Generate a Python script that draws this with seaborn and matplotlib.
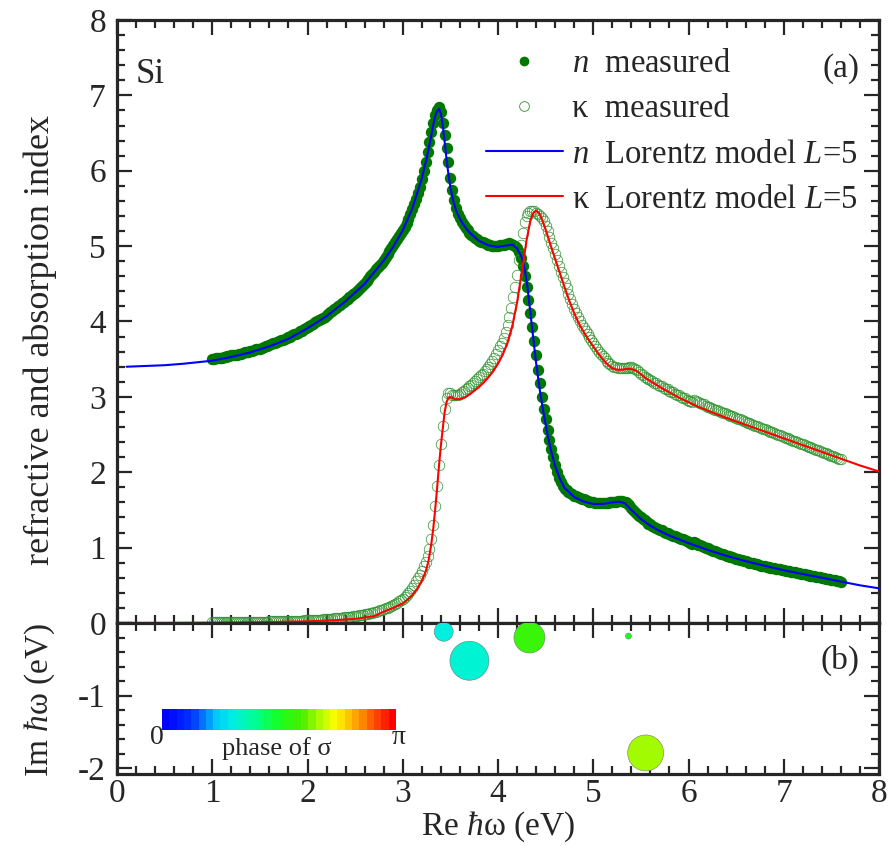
import matplotlib
matplotlib.use('Agg')
import matplotlib.pyplot as plt
import numpy as np
import seaborn as sns
from matplotlib.lines import Line2D
from matplotlib.colors import LinearSegmentedColormap, ListedColormap

# measured energies (eV), 1.00 ... 7.60 every 0.02
e_meas = np.round(np.arange(1.00, 7.605, 0.02), 2)

n_meas = [
    # 1.00 - 3.16
    3.50, 3.50, 3.51, 3.51, 3.52, 3.52, 3.53, 3.53, 3.54, 3.54,
    3.55, 3.55, 3.56, 3.56, 3.57, 3.57, 3.58, 3.59, 3.60, 3.60,
    3.61, 3.61, 3.62, 3.63, 3.64, 3.64, 3.65, 3.66, 3.67, 3.68,
    3.69, 3.70, 3.71, 3.72, 3.73, 3.74, 3.75, 3.76, 3.77, 3.78,
    3.79, 3.80, 3.82, 3.83, 3.84, 3.85, 3.87, 3.88, 3.90, 3.91,
    3.93, 3.94, 3.96, 3.97, 3.99, 4.00, 4.02, 4.03, 4.05, 4.06,
    4.08, 4.10, 4.12, 4.14, 4.16, 4.18, 4.20, 4.22, 4.24, 4.26,
    4.28, 4.30, 4.32, 4.34, 4.36, 4.38, 4.41, 4.43, 4.46, 4.48,
    4.51, 4.54, 4.57, 4.60, 4.63, 4.66, 4.69, 4.72, 4.75, 4.78,
    4.82, 4.85, 4.89, 4.93, 4.97, 5.01, 5.05, 5.09, 5.13, 5.17,
    5.21, 5.26, 5.31, 5.36, 5.42, 5.49, 5.56, 5.63, 5.70,
    # 3.18 - 4.70
    5.79, 5.89, 6.00, 6.12, 6.25, 6.38, 6.52, 6.64, 6.74, 6.81,
    6.84, 6.78, 6.64, 6.48, 6.30, 6.11, 5.91, 5.74, 5.61, 5.51,
    5.43, 5.37, 5.32, 5.28, 5.24, 5.21, 5.18, 5.15, 5.13, 5.11,
    5.09, 5.07, 5.06, 5.05, 5.04, 5.03, 5.02, 5.01, 5.00, 5.00,
    5.00, 5.00, 5.01, 5.01, 5.02, 5.03, 5.03, 5.04, 5.03, 5.02,
    5.00, 4.97, 4.92, 4.84, 4.74, 4.61, 4.46, 4.29, 4.11, 3.93,
    3.74, 3.55, 3.36, 3.18, 3.00, 2.84, 2.70, 2.56, 2.43, 2.31,
    2.20, 2.09, 2.00, 1.93, 1.87, 1.82, 1.78,
    # 4.72 - 7.60
    1.76, 1.74, 1.72, 1.71,
    1.69, 1.68, 1.67, 1.66, 1.65, 1.64, 1.63, 1.62, 1.61, 1.61,
    1.60, 1.59, 1.59, 1.59, 1.59, 1.59, 1.59, 1.59, 1.59, 1.60,
    1.60, 1.61, 1.61, 1.62, 1.62, 1.62, 1.61, 1.60, 1.58, 1.56,
    1.53, 1.50, 1.47, 1.45, 1.42, 1.40, 1.38, 1.36, 1.34, 1.32,
    1.31, 1.29, 1.28, 1.26, 1.25, 1.24, 1.23, 1.21, 1.20, 1.19,
    1.18, 1.17, 1.16, 1.15, 1.14, 1.13, 1.12, 1.11, 1.10, 1.09,
    1.08, 1.06, 1.05, 1.07, 1.06, 1.04, 1.03, 1.02, 1.01, 1.00,
    0.99, 0.98, 0.97, 0.96, 0.95, 0.94, 0.93, 0.92, 0.91, 0.90,
    0.89, 0.885, 0.88, 0.87, 0.86, 0.855, 0.85, 0.84, 0.83, 0.825,
    0.82, 0.81, 0.80, 0.795, 0.79, 0.785, 0.78, 0.77, 0.76, 0.755,
    0.75, 0.745, 0.74, 0.735, 0.73, 0.725, 0.72, 0.715, 0.71, 0.705,
    0.70, 0.695, 0.69, 0.685, 0.68, 0.675, 0.67, 0.665, 0.66, 0.655,
    0.65, 0.645, 0.64, 0.635, 0.63, 0.625, 0.62, 0.615, 0.61, 0.605,
    0.60, 0.595, 0.59, 0.585, 0.58, 0.575, 0.57, 0.565, 0.56, 0.555,
    0.55]

k_meas = [
    # 1.00 - 3.16
    0.010, 0.010, 0.010, 0.010, 0.011, 0.011, 0.011, 0.011, 0.012, 0.012,
    0.012, 0.012, 0.013, 0.013, 0.013, 0.013, 0.014, 0.014, 0.015, 0.015,
    0.015, 0.015, 0.016, 0.016, 0.017, 0.017, 0.018, 0.018, 0.019, 0.019,
    0.020, 0.020, 0.021, 0.021, 0.022, 0.022, 0.023, 0.024, 0.025, 0.025,
    0.026, 0.027, 0.028, 0.029, 0.030, 0.031, 0.032, 0.033, 0.034, 0.035,
    0.036, 0.037, 0.039, 0.040, 0.042, 0.043, 0.045, 0.046, 0.048, 0.050,
    0.052, 0.054, 0.056, 0.058, 0.060, 0.062, 0.065, 0.067, 0.070, 0.073,
    0.076, 0.079, 0.082, 0.085, 0.089, 0.093, 0.097, 0.101, 0.105, 0.110,
    0.115, 0.120, 0.126, 0.132, 0.138, 0.145, 0.152, 0.159, 0.167, 0.176,
    0.185, 0.195, 0.205, 0.216, 0.228, 0.241, 0.255, 0.270, 0.287, 0.305,
    0.325, 0.347, 0.370, 0.398, 0.430, 0.468, 0.510, 0.555, 0.600,
    # 3.18 - 4.70
    0.64, 0.69, 0.75, 0.81, 0.89, 0.98, 1.12, 1.30, 1.55, 1.82,
    2.10, 2.38, 2.62, 2.84, 2.98, 3.05, 3.05, 3.03, 3.02, 3.02,
    3.03, 3.04, 3.06, 3.08, 3.10, 3.12, 3.14, 3.16, 3.19, 3.21,
    3.24, 3.26, 3.29, 3.31, 3.34, 3.37, 3.40, 3.44, 3.48, 3.52,
    3.57, 3.62, 3.67, 3.72, 3.78, 3.86, 3.95, 4.06, 4.18, 4.32,
    4.46, 4.62, 4.82, 5.02, 5.18, 5.32, 5.40, 5.44, 5.46, 5.47,
    5.46, 5.44, 5.42, 5.40, 5.37, 5.33, 5.27, 5.20, 5.12, 5.04,
    4.97, 4.89, 4.81, 4.74, 4.66, 4.59, 4.51,
    # 4.72 - 7.60
    4.44, 4.37, 4.30, 4.23,
    4.17, 4.11, 4.06, 4.01, 3.96, 3.91, 3.87, 3.83, 3.79, 3.75,
    3.71, 3.67, 3.64, 3.60, 3.57, 3.54, 3.51, 3.48, 3.45, 3.43,
    3.41, 3.40, 3.39, 3.38, 3.38, 3.38, 3.38, 3.38, 3.38, 3.39,
    3.39, 3.38, 3.37, 3.35, 3.33, 3.31, 3.29, 3.27, 3.25, 3.24,
    3.22, 3.21, 3.19, 3.18, 3.16, 3.15, 3.14, 3.12, 3.11, 3.10,
    3.08, 3.07, 3.06, 3.04, 3.03, 3.02, 3.00, 2.99, 2.98, 2.96,
    2.95, 2.94, 2.93, 2.96, 2.95, 2.93, 2.92, 2.91, 2.90, 2.88,
    2.87, 2.86, 2.85, 2.84, 2.83, 2.82, 2.81, 2.80, 2.79, 2.78,
    2.77, 2.76, 2.75, 2.74, 2.73, 2.72, 2.71, 2.70, 2.69, 2.68,
    2.67, 2.66, 2.65, 2.64, 2.63, 2.62, 2.61, 2.60, 2.59, 2.58,
    2.57, 2.56, 2.55, 2.54, 2.53, 2.52, 2.51, 2.50, 2.49, 2.48,
    2.47, 2.46, 2.45, 2.44, 2.43, 2.42, 2.41, 2.40, 2.39, 2.38,
    2.37, 2.36, 2.35, 2.34, 2.33, 2.32, 2.31, 2.30, 2.29, 2.28,
    2.27, 2.26, 2.25, 2.24, 2.23, 2.22, 2.21, 2.20, 2.19, 2.18,
    2.17]

# Lorentz model, L=5
e_n_model = [0.10, 0.30, 0.50, 0.70, 1.00, 1.20, 1.40, 1.60, 1.80, 2.00, 2.20, 2.40, 2.60,
             2.80, 2.90, 3.00, 3.10, 3.20, 3.25, 3.30, 3.32, 3.34, 3.36, 3.38, 3.40,
             3.42, 3.44, 3.46, 3.48, 3.50, 3.53, 3.56, 3.60, 3.65, 3.70, 3.80, 3.90,
             4.00, 4.10, 4.15, 4.20, 4.25, 4.28, 4.31, 4.34, 4.37, 4.40, 4.44, 4.48,
             4.52, 4.56, 4.60, 4.65, 4.70, 4.80, 4.90, 5.00, 5.10, 5.20, 5.27, 5.33,
             5.40, 5.50, 5.60, 5.70, 5.80, 5.90, 6.00, 6.20, 6.40, 6.60, 6.80, 7.00,
             7.20, 7.40, 7.60, 7.80, 8.00]
n_model = [3.40, 3.41, 3.42, 3.44, 3.48, 3.53, 3.59, 3.67, 3.77, 3.91, 4.07, 4.27, 4.50,
           4.81, 4.99, 5.21, 5.50, 5.90, 6.16, 6.47, 6.61, 6.72, 6.79, 6.82, 6.76,
           6.60, 6.38, 6.15, 5.95, 5.78, 5.60, 5.47, 5.36, 5.26, 5.18, 5.07, 5.01,
           4.99, 5.01, 5.02, 4.97, 4.85, 4.70, 4.45, 4.12, 3.78, 3.45, 3.08, 2.77,
           2.50, 2.27, 2.08, 1.91, 1.79, 1.67, 1.61, 1.58, 1.58, 1.60, 1.61, 1.59,
           1.50, 1.38, 1.29, 1.22, 1.16, 1.11, 1.06, 0.97, 0.89, 0.82, 0.76, 0.70,
           0.65, 0.60, 0.55, 0.50, 0.46]

e_k_model = [0.10, 0.50, 1.00, 1.50, 2.00, 2.30, 2.50, 2.70, 2.80, 2.90, 3.00, 3.05, 3.10,
             3.15, 3.20, 3.24, 3.27, 3.30, 3.32, 3.34, 3.36, 3.38, 3.40, 3.42, 3.44,
             3.46, 3.48, 3.50, 3.55, 3.60, 3.65, 3.70, 3.75, 3.80, 3.85, 3.90, 3.95,
             4.00, 4.05, 4.10, 4.15, 4.20, 4.25, 4.30, 4.34, 4.37, 4.40, 4.43, 4.46,
             4.50, 4.55, 4.60, 4.65, 4.70, 4.75, 4.80, 4.85, 4.90, 4.95, 5.00, 5.05,
             5.10, 5.15, 5.20, 5.25, 5.30, 5.35, 5.40, 5.45, 5.50, 5.55, 5.60, 5.70,
             5.80, 5.90, 6.00, 6.10, 6.20, 6.40, 6.60, 6.80, 7.00, 7.20, 7.40, 7.60,
             7.80, 8.00]
k_model = [0.000, 0.001, 0.004, 0.010, 0.022, 0.038, 0.055, 0.090, 0.150, 0.200, 0.260,
           0.310, 0.370, 0.450, 0.560, 0.680, 0.820, 1.050, 1.250, 1.500, 1.780, 2.080,
           2.350, 2.580, 2.800, 2.930, 2.990, 3.000, 2.970, 2.970, 2.990, 3.030, 3.080,
           3.130, 3.190, 3.260, 3.340, 3.440, 3.560, 3.720, 3.940, 4.250, 4.660, 5.080,
           5.340, 5.440, 5.470, 5.440, 5.360, 5.220, 5.020, 4.830, 4.640, 4.450, 4.270,
           4.110, 3.970, 3.860, 3.760, 3.670, 3.580, 3.500, 3.430, 3.380, 3.360, 3.360,
           3.370, 3.370, 3.350, 3.300, 3.250, 3.210, 3.130, 3.060, 2.990, 2.930, 2.870,
           2.820, 2.720, 2.630, 2.540, 2.450, 2.360, 2.270, 2.180, 2.090, 2.010]

# poles of the model (panel b)
pole_re = [3.43, 3.70, 4.33, 5.37, 5.55]
pole_im = [-0.12, -0.52, -0.20, -0.18, -1.79]
pole_strength = [19, 39, 31, 6, 36]
pole_phase = [0.30, 0.32, 0.57, 0.50, 0.67]   # in units of pi

sns.set_style('ticks')
plt.rcParams['font.family'] = ['Liberation Serif', 'DejaVu Serif']
plt.rcParams['mathtext.fontset'] = 'custom'
plt.rcParams['mathtext.rm'] = 'Liberation Serif'
plt.rcParams['mathtext.it'] = 'Liberation Serif:italic'
plt.rcParams['axes.unicode_minus'] = False

FS = 24
W, H = 896, 846
fig = plt.figure(figsize=(W / 100, H / 100), dpi=100)
ax1 = fig.add_axes([117 / W, 1 - 623 / H, 762 / W, 603 / H])
ax2 = fig.add_axes([117 / W, 1 - 774 / H, 762 / W, 151 / H])

dot_green = '#007800'
ring_green = '#2f932f'

sns.lineplot(x=e_meas, y=n_meas, ax=ax1, color=dot_green, linestyle='', marker='o',
             markersize=8.2, markeredgewidth=0, markeredgecolor=dot_green,
             errorbar=None, sort=False, zorder=2)
sns.lineplot(x=e_meas, y=k_meas, ax=ax1, color=ring_green, linestyle='', marker='o',
             markersize=7.6, markerfacecolor='none', markeredgecolor=ring_green,
             markeredgewidth=0.5, errorbar=None, sort=False, zorder=2)
sns.lineplot(x=e_n_model, y=n_model, ax=ax1, color='#0000ff', linewidth=1.5,
             errorbar=None, sort=False, zorder=3)
sns.lineplot(x=e_k_model, y=k_model, ax=ax1, color='#ff0000', linewidth=1.5,
             errorbar=None, sort=False, zorder=3)

# colormap for the phase
cmap = LinearSegmentedColormap.from_list('phase', [
    (0.00, '#0000ff'), (0.12, '#0038ff'), (0.22, '#00c8ff'), (0.30, '#00f0e0'),
    (0.40, '#00ff90'), (0.50, '#18ff20'), (0.60, '#48f000'), (0.70, '#c8ff00'),
    (0.75, '#ffff00'), (0.86, '#ff9000'), (1.00, '#ff0000')])

sizes = (np.array(pole_strength) * 0.72) ** 2
ax2.scatter(pole_re, pole_im, s=sizes, c=[cmap(p) for p in pole_phase],
            edgecolors='#777777', linewidths=0.4, zorder=3)

cax = ax2.inset_axes([0.059, 0.293, 0.306, 0.135])
cax.imshow(np.linspace(0, 1, 32)[None, :], aspect='auto',
           cmap=ListedColormap(cmap(np.linspace(0, 1, 32))))
cax.set_axis_off()
ax2.text(0.052, 0.24, '0', transform=ax2.transAxes, ha='center', va='center', fontsize=20)
ax2.text(0.369, 0.24, 'π', transform=ax2.transAxes, ha='center', va='center', fontsize=20)
ax2.text(0.21, 0.17, 'phase of σ', transform=ax2.transAxes, ha='center', va='center',
         fontsize=19)

for ax in (ax1, ax2):
    ax.set_xlim(0, 8)
    ax.xaxis.set_major_locator(plt.MultipleLocator(1))
    ax.xaxis.set_minor_locator(plt.MultipleLocator(0.2))
    ax.yaxis.set_major_locator(plt.MultipleLocator(1))
    ax.yaxis.set_minor_locator(plt.MultipleLocator(0.2))
    ax.tick_params(which='both', direction='in', top=True, right=True, width=1.6,
                   labelsize=FS, labelfontfamily='Liberation Serif')
    ax.tick_params(which='major', length=11)
    ax.tick_params(which='minor', length=6)
    ax.tick_params(axis='y', pad=8)
    ax.tick_params(axis='x', pad=3)
    for sp in ax.spines.values():
        sp.set_linewidth(2.3)
    ax.set_xlabel('')
    ax.set_ylabel('')

ax1.set_ylim(0, 8)
ax1.set_yticks(range(0, 9))
ax1.set_yticklabels([''] + [str(i) for i in range(1, 9)])
ax1.tick_params(labelbottom=False)
ax2.set_ylim(-2.08, 0)
ax2.set_yticks([0, -1, -2])

ax1.text(0.024, 0.91, 'Si', transform=ax1.transAxes, ha='left', va='center', fontsize=25)
ax1.text(0.975, 0.92, '(a)', transform=ax1.transAxes, ha='right', va='center', fontsize=FS)
ax2.text(0.975, 0.75, '(b)', transform=ax2.transAxes, ha='right', va='center', fontsize=FS)

handles = [
    Line2D([], [], linestyle='', marker='o', markersize=7, color=dot_green,
           markeredgewidth=0),
    Line2D([], [], linestyle='', marker='o', markersize=7, markerfacecolor='none',
           markeredgecolor=ring_green, markeredgewidth=0.6),
    Line2D([], [], color='#0000ff', linewidth=1.5),
    Line2D([], [], color='#ff0000', linewidth=1.5),
]
labels = [r'$n$  measured', 'κ  measured', r'$n$  Lorentz model $L$=5',
          'κ  Lorentz model $L$=5']
ax1.legend(handles, labels, loc='upper right', bbox_to_anchor=(0.998, 0.985),
           frameon=False, fontsize=23.5, handlelength=2.35, handletextpad=0.3,
           labelspacing=0.45, borderaxespad=0.2)

fig.text(40 / W, 1 - 340 / H, 'refractive and absorption index', rotation=90,
         ha='center', va='center', fontsize=26)
fig.text(40 / W, 1 - 700 / H, r'Im $\hbar$ω (eV)', rotation=90,
         ha='center', va='center', fontsize=FS)
fig.text(498 / W, 1 - 827 / H, r'Re $\hbar$ω (eV)', ha='center', va='center', fontsize=FS)

fig.savefig('out.png', dpi=100)
